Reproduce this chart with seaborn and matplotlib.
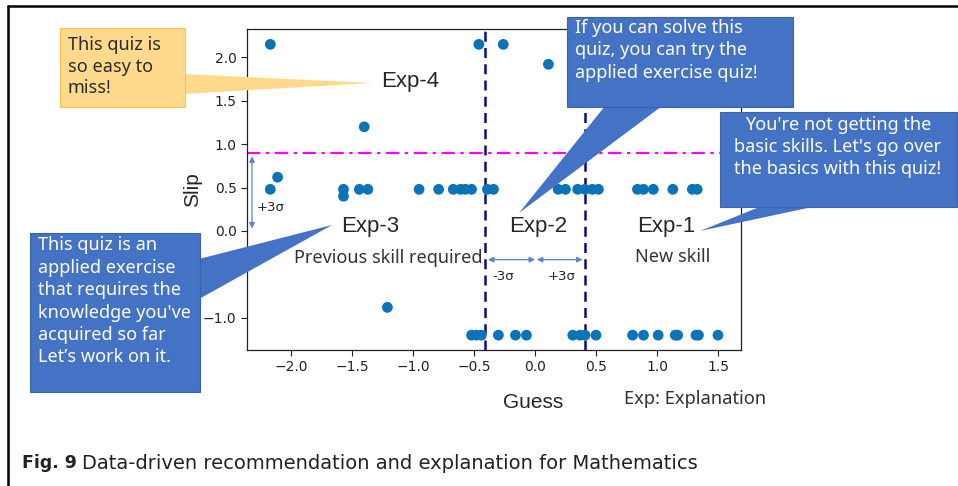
import numpy as np
import pandas as pd
import matplotlib
matplotlib.use("Agg")
import matplotlib.pyplot as plt
import seaborn as sns
from matplotlib.patches import Polygon, Rectangle

# Data (Guess / Slip parameters per quiz)
guess_top = [-2.17, -0.46, -0.26, 0.11, -1.40, -2.11, -1.57, -1.21]
slip_top = [2.15, 2.15, 2.15, 1.92, 1.20, 0.62, 0.40, -0.88]

guess_mid = [-2.17, -1.57, -1.44, -1.37, -0.95, -0.79, -0.67, -0.61, -0.57, -0.52,
             -0.39, -0.34, 0.19, 0.25, 0.35, 0.41, 0.47, 0.52, 0.84, 0.89, 0.97,
             1.13, 1.29, 1.33]
slip_mid = [0.48] * len(guess_mid)

guess_low = [-0.52, -0.48, -0.44, -0.30, -0.16, -0.07, 0.31, 0.37, 0.41, 0.50,
             0.80, 0.89, 1.01, 1.15, 1.17, 1.32, 1.34, 1.50]
slip_low = [-1.20] * len(guess_low)

guess_sigma = 0.41   # +/- 3 sigma on guess
slip_sigma = 0.90    # +3 sigma on slip

df = pd.DataFrame({
    "Guess": guess_top + guess_mid + guess_low,
    "Slip": slip_top + slip_mid + slip_low,
})

sns.set_style("ticks")
plt.rcParams["font.family"] = ["DejaVu Sans"]

W, H = 958, 486
fig = plt.figure(figsize=(W / 100, H / 100), dpi=100)
fig.patch.set_facecolor("white")

# main axes placed to match the reference pixel box
L, R, T, B = 247, 741, 29, 350
ax = fig.add_axes([L / W, 1 - B / H, (R - L) / W, (B - T) / H])

sns.scatterplot(data=df, x="Guess", y="Slip", ax=ax, color="#0b73b8",
                s=60, edgecolor="none", zorder=3)

ax.set_xlim(-2.361, 1.689)
ax.set_ylim(-1.371, 2.327)
ax.set_xticks([-2.0, -1.5, -1.0, -0.5, 0.0, 0.5, 1.0, 1.5])
ax.set_yticks([-1.0, 0.0, 0.5, 1.0, 1.5, 2.0])
ax.tick_params(labelsize=10, colors="#222222", length=4, width=0.8)
for sp in ax.spines.values():
    sp.set_linewidth(0.9)
    sp.set_color("#222222")

ax.set_xlabel("Guess", fontsize=15, family="Liberation Sans", va="center")
ax.xaxis.set_label_coords((533 - L) / (R - L), -(402 - B) / (B - T))
ax.set_ylabel("Slip", fontsize=15, family="Liberation Sans", va="center")
ax.yaxis.set_label_coords((193 - L) / (R - L), 0.5)

# threshold lines
ax.axvline(-guess_sigma, color="#0a0a8a", lw=1.8, ls=(0, (4, 2.5)), zorder=2)
ax.axvline(guess_sigma, color="#0a0a8a", lw=1.8, ls=(0, (4, 2.5)), zorder=2)
ax.axhline(slip_sigma, color="#ff00ff", lw=1.6, ls=(0, (6, 2.5, 1.5, 2.5)), zorder=2)

# sigma arrows
arr = dict(arrowstyle="<|-|>", color="#5b80cc", lw=0.9, mutation_scale=8,
           shrinkA=0, shrinkB=0)
ax.annotate("", xy=(-2.32, 0.03), xytext=(-2.32, 0.86), arrowprops=arr)
ax.text(-2.17, 0.265, "+3σ", fontsize=9.5, ha="center", va="center")
ax.annotate("", xy=(-0.385, -0.33), xytext=(0.0, -0.33), arrowprops=arr)
ax.annotate("", xy=(0.016, -0.33), xytext=(0.39, -0.33), arrowprops=arr)
ax.text(-0.26, -0.53, "-3σ", fontsize=9.5, ha="center", va="center")
ax.text(0.22, -0.53, "+3σ", fontsize=9.5, ha="center", va="center")

# explanation labels
exp_kw = dict(fontsize=16, family="Liberation Sans", ha="center", va="center")
ax.text(-1.02, 1.72, "Exp-4", **exp_kw)
ax.text(-1.35, 0.05, "Exp-3", **exp_kw)
ax.text(0.03, 0.05, "Exp-2", **exp_kw)
ax.text(1.08, 0.05, "Exp-1", **exp_kw)
sub_kw = dict(fontsize=13, family="Noto Sans", color="#333333", ha="center", va="center")
ax.text(-1.20, -0.31, "Previous skill required", **sub_kw)
ax.text(1.13, -0.30, "New skill", **sub_kw)

# overlay in pixel coordinates for callouts, frame and caption
ov = fig.add_axes([0, 0, 1, 1], zorder=5)
ov.set_xlim(0, W)
ov.set_ylim(H, 0)
ov.axis("off")
ov.patch.set_alpha(0)

ov.plot([8, 8], [6, H], color="black", lw=1.8)
ov.plot([8, W], [6, 6], color="black", lw=1.8)


def callout(box, wedge, face, edge, lines, x, ys, color, ha="left"):
    ov.add_patch(Polygon(wedge, closed=True, facecolor=face, edgecolor="none"))
    x0, y0, x1, y1 = box
    ov.add_patch(Rectangle((x0, y0), x1 - x0, y1 - y0, facecolor=face,
                           edgecolor=edge, lw=0.8))
    for line, y in zip(lines, ys):
        ov.text(x, y, line, fontsize=13, family="Noto Sans", color=color,
                ha=ha, va="center")


callout((60, 28, 185, 107), [(184, 74), (372, 83), (184, 94)],
        "#ffd98c", "#f5c44e", ["This quiz is", "so easy to", "miss!"],
        68, [45, 67, 88], "#2b2b2b")
callout((30, 233, 200, 392), [(199, 259), (332, 225), (199, 299)],
        "#4472c4", "#3a63ad",
        ["This quiz is an", "applied exercise", "that requires the",
         "knowledge you've", "acquired so far", "Let’s work on it."],
        38, [245, 268, 290, 313, 335, 357], "white")
callout((567, 17, 793, 107), [(605, 106), (519, 213), (662, 106)],
        "#4472c4", "#3a63ad",
        ["If you can solve this", "quiz, you can try the", "applied exercise quiz!"],
        575, [28, 50, 73], "white")
callout((720, 112, 957, 207), [(762, 206), (700, 231), (817, 206)],
        "#4472c4", "#3a63ad",
        ["You're not getting the", "basic skills. Let's go over",
         "the basics with this quiz!"],
        838, [125, 147, 169], "white", ha="center")

ov.text(695, 399, "Exp: Explanation", fontsize=13.2, family="Noto Sans",
        color="#333333", ha="center", va="center")

ov.text(22, 463, "Fig. 9", fontsize=12.5, family="DejaVu Sans", weight="bold",
        color="#222222", ha="left", va="center")
ov.text(82, 463, "Data-driven recommendation and explanation for Mathematics",
        fontsize=14, family="DejaVu Sans", color="#222222", ha="left", va="center")

fig.savefig("out.png", dpi=100)
